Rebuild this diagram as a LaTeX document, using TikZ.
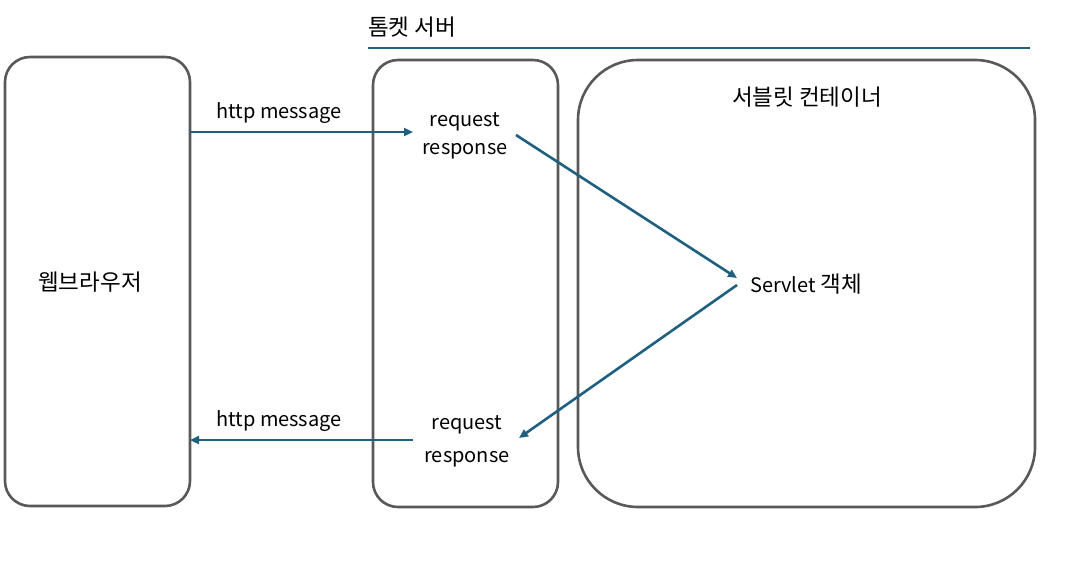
\documentclass[tikz,border=0pt]{standalone}
\usepackage{fontspec}
\setmainfont{Noto Sans CJK KR}
\newcommand{\kr}[1]{{\fontsize{22.5}{26}\selectfont #1}}
\usetikzlibrary{arrows.meta}
\definecolor{boxgray}{HTML}{595959}
\definecolor{arrowblue}{HTML}{1F5F80}
\tikzset{
  frame/.style={draw=boxgray, line width=2.6pt},
  lbl/.style={inner sep=0pt, font=\fontsize{20}{23}\selectfont, text=black},
  flow/.style={draw=arrowblue, line width=2.6pt, -{Triangle[length=9pt,width=8pt]}},
}
\begin{document}
\begin{tikzpicture}[x=1pt,y=-1pt]
\useasboundingbox (0,0) rectangle (1075,562);
% boxes
\draw[frame, rounded corners=25pt] (5,57) rectangle (190,506);
\draw[frame, rounded corners=25pt] (373,60) rectangle (558,507);
\draw[frame, rounded corners=60pt] (578,60) rectangle (1035,507);
% title and line
\node[lbl, anchor=west] (title) at (368,27) {\kr{톰켓 서버}};
\coordinate (lineL) at (368,48);
\coordinate (lineR) at (1030,48);
\draw[draw=arrowblue, line width=2pt] (lineL) -- (lineR);
\node[lbl] (container) at (807,97) {\kr{서블릿 컨테이너}};
\node[lbl] (browser) at (90,282) {\kr{웹브라우저}};
% labels
\node[lbl] (msgtop) at (279,113) {http message};
\node[lbl] (msgbot) at (279,421) {http message};
\node[lbl] (reqtop) at (465,122) {request};
\node[lbl] (restop) at (465,151) {response};
\node[lbl] (reqbot) at (467,425) {request};
\node[lbl] (resbot) at (467,459) {response};
\node[lbl, anchor=west] (servlet) at (750,284) {Servlet \kr{객체}};
% connector ends
\coordinate (a1s) at (190,132);
\coordinate (a1e) at (413,132);
\coordinate (a2s) at (516,135);
\coordinate (a2e) at (737,278);
\coordinate (a3s) at (737,285);
\coordinate (a3e) at (519,438);
\coordinate (a4s) at (413,440);
\coordinate (a4e) at (190,440);
\draw[flow] (a1s) -- (a1e);
\draw[flow] (a2s) -- (a2e);
\draw[flow] (a3s) -- (a3e);
\draw[flow] (a4s) -- (a4e);
\end{tikzpicture}
\end{document}
